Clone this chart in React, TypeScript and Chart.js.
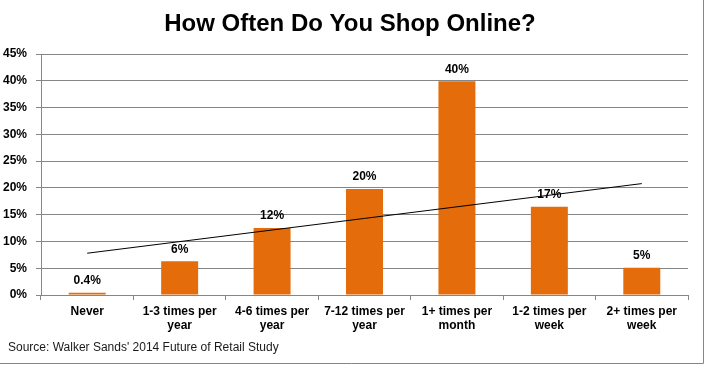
import React, { useEffect, useRef } from "react";
import { Chart, registerables } from "chart.js";

Chart.register(...registerables);

const categories: string[][] = [
  ["Never"],
  ["1-3 times per", "year"],
  ["4-6 times per", "year"],
  ["7-12 times per", "year"],
  ["1+ times per", "month"],
  ["1-2 times per", "week"],
  ["2+ times per", "week"],
];
const shares: number[] = [0.4, 6.3, 12.5, 19.8, 39.9, 16.5, 5.1];
const shareLabels: string[] = ["0.4%", "6%", "12%", "20%", "40%", "17%", "5%"];
const trend: (number | null)[] = [7.8, null, null, null, null, null, 20.8];
const titleText = "How Often Do You Shop Online?";
const sourceText = "Source: Walker Sands' 2014 Future of Retail Study";

const FONT = "'Liberation Sans', Arial, sans-serif";
const GRID = "#868686";
const ORANGE = "#E46C0A";

const decorPlugin = {
  id: "decor",
  afterDraw(chart: any) {
    const ctx = chart.ctx;
    ctx.save();
    // title
    ctx.fillStyle = "#000";
    ctx.font = `bold 24px ${FONT}`;
    ctx.textAlign = "center";
    ctx.textBaseline = "alphabetic";
    ctx.fillText(titleText, 350, 31);
    // data labels
    const meta = chart.getDatasetMeta(0);
    ctx.font = `bold 12px ${FONT}`;
    ctx.textBaseline = "middle";
    meta.data.forEach((bar: any, i: number) => {
      ctx.fillText(shareLabels[i], bar.x, bar.y - 12);
    });
    // source
    ctx.font = `12px ${FONT}`;
    ctx.textAlign = "left";
    ctx.fillStyle = "#1a1a1a";
    ctx.fillText(sourceText, 8, 348);
    // border
    ctx.strokeStyle = GRID;
    ctx.lineWidth = 1;
    ctx.beginPath();
    ctx.moveTo(703.5, 0);
    ctx.lineTo(703.5, 363.5);
    ctx.lineTo(0, 363.5);
    ctx.stroke();
    ctx.restore();
  },
};

export default function App() {
  const ref = useRef<HTMLCanvasElement | null>(null);
  useEffect(() => {
    if (!ref.current) return;
    const chart = new Chart(ref.current, {
      type: "bar",
      data: {
        labels: categories as any,
        datasets: [
          {
            type: "bar",
            data: shares,
            backgroundColor: ORANGE,
            barPercentage: 0.4,
            categoryPercentage: 1,
            order: 2,
          } as any,
          {
            type: "line",
            data: trend,
            spanGaps: true,
            borderColor: "#000",
            borderWidth: 1,
            pointRadius: 0,
            fill: false,
            order: 1,
          } as any,
        ],
      },
      options: {
        responsive: false,
        animation: false,
        layout: { padding: { top: 54, right: 16, bottom: 0, left: 0 } },
        plugins: {
          legend: { display: false },
          title: { display: false },
          tooltip: { enabled: false },
        },
        scales: {
          x: {
            offset: true,
            grid: {
              offset: true,
              drawOnChartArea: false,
              drawTicks: true,
              tickLength: 5,
              color: GRID,
            },
            border: { display: true, color: GRID },
            ticks: {
              color: "#000",
              font: { family: FONT, size: 12, weight: "bold" },
              padding: 4,
              maxRotation: 0,
              autoSkip: false,
            },
            afterFit: (s: any) => {
              s.height = 70;
            },
          },
          y: {
            min: 0,
            max: 45,
            grid: { color: GRID, drawTicks: true, tickLength: 5 },
            border: { display: true, color: GRID },
            ticks: {
              stepSize: 5,
              color: "#000",
              font: { family: FONT, size: 12, weight: "bold" },
              padding: 9,
              callback: (v: any) => `${v}%`,
            },
            afterFit: (s: any) => {
              s.width = 41;
            },
          },
        },
      },
      plugins: [decorPlugin],
    });
    return () => chart.destroy();
  }, []);
  return (
    <div
      style={{
        position: "fixed",
        left: 0,
        top: 0,
        width: 704,
        height: 365,
        background: "#fff",
      }}
    >
      <canvas ref={ref} width={704} height={365} style={{ display: "block" }} />
    </div>
  );
}
